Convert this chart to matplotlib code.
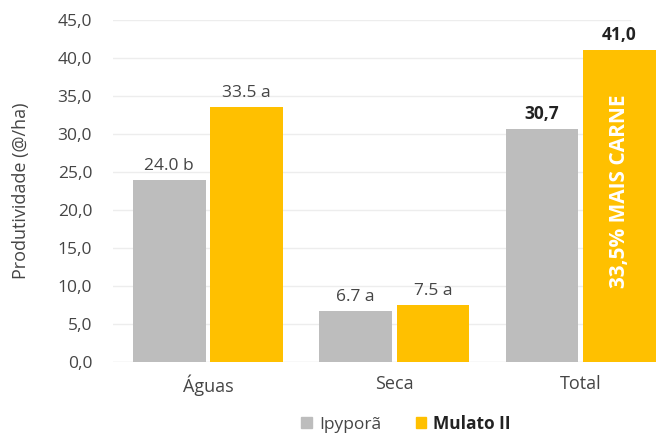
import matplotlib
matplotlib.use("Agg")
import matplotlib.pyplot as plt
import numpy as np
from matplotlib.patches import Patch

categories = ["Águas", "Seca", "Total"]
series_names = ["Ipyporã", "Mulato II"]
ipypora = [24.0, 6.7, 30.7]
mulato = [33.5, 7.5, 41.0]
ipypora_labels = ["24.0 b", "6.7 a", "30,7"]
mulato_labels = ["33.5 a", "7.5 a", "41,0"]
yticks = [0, 5, 10, 15, 20, 25, 30, 35, 40, 45]
ytick_labels = ["0,0", "5,0", "10,0", "15,0", "20,0", "25,0", "30,0", "35,0", "40,0", "45,0"]
highlight = "33,5% MAIS CARNE"

GRAY = "#BDBDBD"
YELLOW = "#FFC000"
TXT = "#454545"
FONT = ["Open Sans", "DejaVu Sans"]
plt.rcParams["font.family"] = FONT

fig = plt.figure(figsize=(6.57, 4.36), dpi=100)
W, H = 657, 436
ax = fig.add_axes([113 / W, 1 - 362 / H, (657 - 113) / W, (362 - 20) / H])

x = np.arange(len(categories))
bw = 0.39
gap = 0.013
b1 = ax.bar(x - bw / 2 - gap, ipypora, bw, color=GRAY, zorder=3)
b2 = ax.bar(x + bw / 2 + gap, mulato, bw, color=YELLOW, zorder=3)

ax.set_xlim(-0.51, 2.41)
ax.set_ylim(0, 45)
ax.set_yticks(yticks)
ax.set_yticklabels(ytick_labels, fontsize=12.5, color=TXT)
ax.set_xticks(x)
ax.set_xticklabels(categories, fontsize=13, color=TXT)
ax.tick_params(axis="both", length=0)
ax.tick_params(axis="y", pad=15)
ax.tick_params(axis="x", pad=9)
for s in ax.spines.values():
    s.set_visible(False)

xmax_frac = (630 - 113) / (657 - 113)
for t in yticks:
    ax.axhline(t, xmin=0, xmax=xmax_frac, color="#EDEDED" if t else "#DDDDDD", lw=1, zorder=1)

ax.set_ylabel("Produtividade (@/ha)", fontsize=13, color=TXT, labelpad=20)

for i, (r, lab) in enumerate(zip(b1, ipypora_labels)):
    bold = i == 2
    ax.text(r.get_x() + r.get_width() / 2, r.get_height() + 0.8, lab, ha="center", va="bottom",
            fontsize=12.5, color="#222222" if bold else TXT, fontweight="bold" if bold else "normal", zorder=4)
for i, (r, lab) in enumerate(zip(b2, mulato_labels)):
    bold = i == 2
    ax.text(r.get_x() + r.get_width() / 2, r.get_height() + 0.8, lab, ha="center", va="bottom",
            fontsize=12.5, color="#222222" if bold else TXT, fontweight="bold" if bold else "normal", zorder=4)

r = b2[2]
ax.text(r.get_x() + r.get_width() / 2, 22.5, highlight, rotation=90, ha="center", va="center",
        fontsize=15, color="white", fontweight="bold", zorder=5)

handles = [Patch(color=GRAY), Patch(color=YELLOW)]
leg = fig.legend(handles, series_names, loc="center", bbox_to_anchor=(406 / W, 1 - 424 / H), ncol=2,
                 frameon=False, fontsize=12.5, handlelength=0.6, handleheight=0.6, handletextpad=0.4,
                 columnspacing=2.0)
for t in leg.get_texts():
    t.set_color(TXT)
leg.get_texts()[1].set_fontweight("bold")
leg.get_texts()[1].set_color("#222222")

fig.savefig("out.png", dpi=100)
